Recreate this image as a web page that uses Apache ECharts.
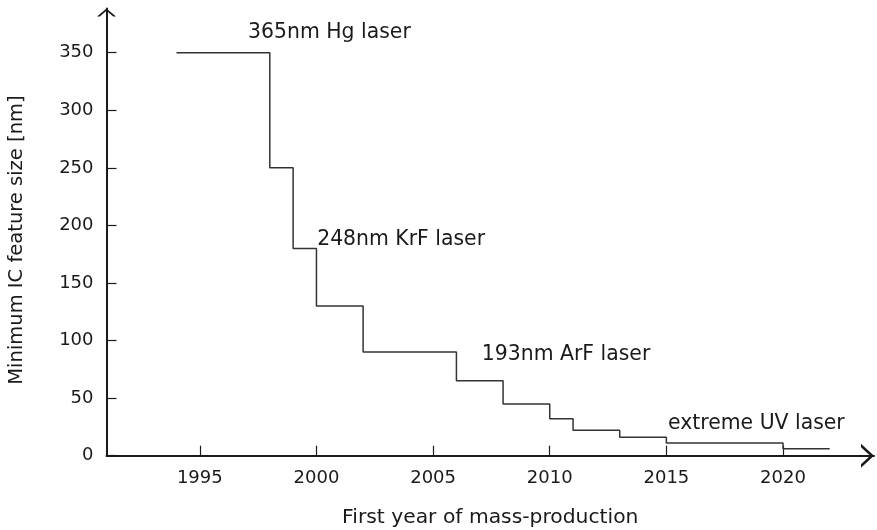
<!DOCTYPE html>
<html>
<head>
<meta charset="utf-8">
<script src="https://cdn.jsdelivr.net/npm/echarts@6/dist/echarts.min.js"></script>
<style>
  html, body { margin: 0; padding: 0; background: #fff; }
  #chart { width: 877px; height: 530px; }
</style>
</head>
<body>
<div id="chart"></div>
<script>
// Year each node went into mass production, and its minimum feature size (nm)
const startYears = [1994, 1998, 1999, 2000, 2002, 2006, 2008, 2010, 2011, 2013, 2015, 2020];
const featureSizes = [350, 250, 180, 130, 90, 65, 45, 32, 22, 16, 11, 6];
const lastYear = 2022;

// Tick values on both axes
const yearTicks = [1995, 2000, 2005, 2010, 2015, 2020];
const sizeTicks = [0, 50, 100, 150, 200, 250, 300, 350];

// Lithography light-source notes, anchored in data space (year, nm)
const noteTexts = ['365nm Hg laser', '248nm KrF laser', '193nm ArF laser', 'extreme UV laser'];
const noteYears = [1997.07, 2000.03, 2007.09, 2015.07];
const noteSizes = [367.3, 188, 87.8, 27.5];

const stepData = startYears.map((y, i) => [y, featureSizes[i]]);
stepData.push([lastYear, featureSizes[featureSizes.length - 1]]);
const noteData = noteTexts.map((t, i) => [noteYears[i], noteSizes[i], t]);

const FONT = 'DejaVu Sans';
const INK = '#1a1a1a';

// open chevron arrow heads (tip at the top of the box)
const xArrow = 'path://M0,13 L12,0 L24,13 L20.5,13 L12,3.8 L3.5,13 Z';
const yArrow = 'path://M0,8 L9.5,0 L19,8 L16.2,8 L9.5,2.36 L2.8,8 Z';

const chart = echarts.init(document.getElementById('chart'), null, { renderer: 'canvas' });
chart.setOption({
  animation: false,
  backgroundColor: '#ffffff',
  grid: { left: 106.5, right: 3, top: 8.4, bottom: 74.3, containLabel: false, outerBoundsMode: 'none' },
  xAxis: {
    type: 'value',
    min: 1991,
    max: 2023.9,
    name: 'First year of mass-production',
    nameLocation: 'middle',
    nameGap: 52,
    nameTextStyle: { fontFamily: FONT, fontSize: 20.3, color: INK },
    splitLine: { show: false },
    axisLine: {
      lineStyle: { color: INK, width: 2 },
      symbol: ['none', xArrow],
      symbolSize: [24, 13],
      symbolOffset: [0, -6.5]
    },
    axisTick: { inside: true, length: 10, customValues: yearTicks, lineStyle: { color: INK, width: 1.2 } },
    axisLabel: {
      customValues: yearTicks,
      margin: 14,
      fontFamily: FONT, fontSize: 18, color: INK,
      formatter: v => String(v)
    }
  },
  yAxis: {
    type: 'value',
    min: 0,
    max: 388.5,
    name: 'Minimum IC feature size [nm]',
    nameLocation: 'middle',
    nameGap: 80,
    nameTextStyle: { fontFamily: FONT, fontSize: 19.5, color: INK, padding: [0, 16, 0, 0] },
    splitLine: { show: false },
    axisLine: {
      lineStyle: { color: INK, width: 2 },
      symbol: ['none', yArrow],
      symbolSize: [19, 8],
      symbolOffset: [0, -4]
    },
    axisTick: { inside: true, length: 10, customValues: sizeTicks, lineStyle: { color: INK, width: 1.2 } },
    axisLabel: {
      customValues: sizeTicks,
      margin: 13,
      fontFamily: FONT, fontSize: 18, color: INK
    }
  },
  series: [
    {
      type: 'line',
      step: 'end',
      data: stepData,
      showSymbol: false,
      symbol: 'none',
      lineStyle: { color: '#333333', width: 1.5 },
      z: 3
    },
    {
      type: 'scatter',
      data: noteData,
      symbolSize: 0,
      silent: true,
      itemStyle: { opacity: 1 },
      label: {
        show: true,
        position: 'right',
        distance: 0,
        formatter: p => p.value[2],
        fontFamily: FONT,
        fontSize: 20.4,
        color: INK,
        opacity: 1
      }
    }
  ]
});
</script>
</body>
</html>
